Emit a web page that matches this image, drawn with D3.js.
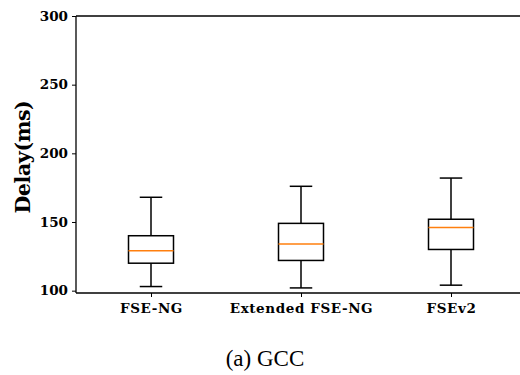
<!DOCTYPE html>
<meta charset="utf-8">
<script src="https://d3js.org/d3.v7.min.js"></script>
<style>
  body { margin: 0; background: #fff; }
</style>
<div id="chart"></div>
<script>
// box statistics (ms)
var categories = ["FSE-NG", "Extended FSE-NG", "FSEv2"];
var whiskerLow = [103, 102, 104];
var q1 = [120, 122, 130];
var median = [129, 134, 146];
var q3 = [140, 149, 152];
var whiskerHigh = [168, 176, 182];
var yTicks = [100, 150, 200, 250, 300];

var W = 520, H = 375;
var serifBold = "'DejaVu Serif', 'Liberation Serif', serif";
var svg = d3.select("#chart").append("svg")
  .attr("width", W).attr("height", H);

// x: box positions 1..3, matplotlib style limits
var x = d3.scaleLinear().domain([0.5, 3.5]).range([76, 526]);
var y = d3.scaleLinear().domain([98.3, 300]).range([293, 16]);
var boxW = 0.3, capW = 0.15;

// axes
var yAxis = svg.append("g")
  .attr("transform", "translate(76,0)")
  .call(d3.axisLeft(y).tickValues(yTicks).tickSize(4).tickPadding(4));

var xAxis = svg.append("g")
  .attr("transform", "translate(0,293)")
  .call(d3.axisBottom(x).tickValues([1, 2, 3]).tickSize(4).tickPadding(6)
    .tickFormat(function(d) { return categories[d - 1]; }));

[yAxis, xAxis].forEach(function(a) {
  a.attr("font-family", serifBold).attr("font-weight", "bold").attr("font-size", 13.5);
  a.select(".domain").remove();
  a.selectAll(".tick line").attr("stroke", "#000").attr("stroke-width", 1);
  a.selectAll(".tick text").attr("fill", "#000");
});
xAxis.selectAll(".tick text").attr("letter-spacing", 0.6);

// spines
svg.append("line").attr("x1", 76).attr("x2", 76).attr("y1", 16).attr("y2", 293)
  .attr("stroke", "#000").attr("stroke-width", 1.3);
svg.append("line").attr("x1", 76).attr("x2", 526).attr("y1", 293).attr("y2", 293)
  .attr("stroke", "#000").attr("stroke-width", 1.3);
svg.append("line").attr("x1", 76).attr("x2", 526).attr("y1", 16).attr("y2", 16)
  .attr("stroke", "#000").attr("stroke-width", 1.3);

// boxes
var data = categories.map(function(c, i) {
  return {pos: i + 1, lo: whiskerLow[i], q1: q1[i], med: median[i], q3: q3[i], hi: whiskerHigh[i]};
});
var g = svg.selectAll(".box").data(data).enter().append("g").attr("class", "box");

g.append("line").attr("x1", d => x(d.pos)).attr("x2", d => x(d.pos))
  .attr("y1", d => y(d.lo)).attr("y2", d => y(d.q1))
  .attr("stroke", "#000").attr("stroke-width", 1.5);
g.append("line").attr("x1", d => x(d.pos)).attr("x2", d => x(d.pos))
  .attr("y1", d => y(d.q3)).attr("y2", d => y(d.hi))
  .attr("stroke", "#000").attr("stroke-width", 1.5);
g.selectAll(".cap").data(d => [d.lo, d.hi].map(v => ({pos: d.pos, v: v})))
  .enter().append("line")
  .attr("x1", d => x(d.pos - capW / 2)).attr("x2", d => x(d.pos + capW / 2))
  .attr("y1", d => y(d.v)).attr("y2", d => y(d.v))
  .attr("stroke", "#000").attr("stroke-width", 1.5);
g.append("rect")
  .attr("x", d => x(d.pos - boxW / 2)).attr("width", d => x(d.pos + boxW / 2) - x(d.pos - boxW / 2))
  .attr("y", d => y(d.q3)).attr("height", d => y(d.q1) - y(d.q3))
  .attr("fill", "none").attr("stroke", "#000").attr("stroke-width", 1.5);
g.append("line")
  .attr("x1", d => x(d.pos - boxW / 2)).attr("x2", d => x(d.pos + boxW / 2))
  .attr("y1", d => y(d.med)).attr("y2", d => y(d.med))
  .attr("stroke", "#ff7f0e").attr("stroke-width", 1.5);

// y label
svg.append("text")
  .attr("transform", "translate(30,157) rotate(-90)")
  .attr("text-anchor", "middle")
  .attr("font-family", serifBold).attr("font-weight", "bold")
  .attr("font-size", 20.5).attr("letter-spacing", -0.4)
  .text("Delay(ms)");

// caption
svg.append("text")
  .attr("x", 265).attr("y", 366)
  .attr("text-anchor", "middle")
  .attr("font-family", "'Liberation Serif', 'Times New Roman', serif")
  .attr("font-size", 23)
  .text("(a) GCC");
</script>
